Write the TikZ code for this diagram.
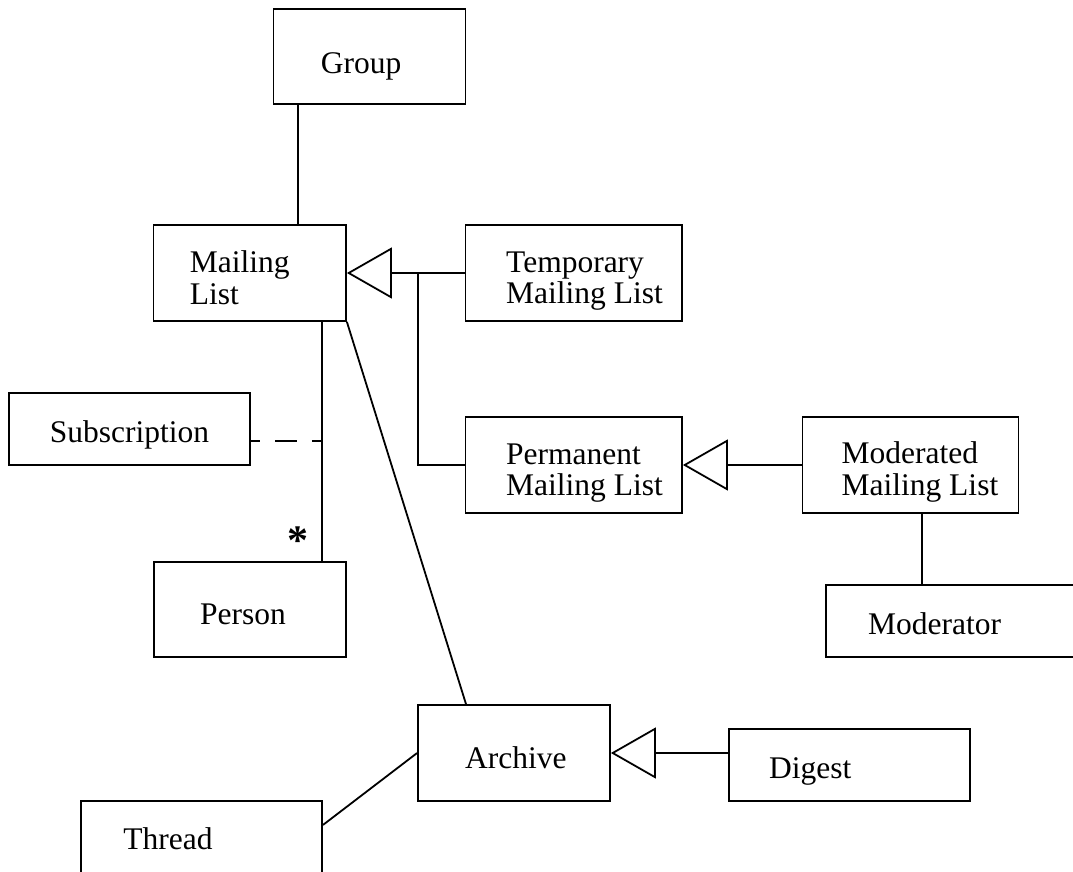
\documentclass[tikz,border=0pt]{standalone}
\usepackage{fontspec}
\setmainfont{Liberation Serif}
\usetikzlibrary{arrows.meta}
\begin{document}
\begin{tikzpicture}[x=1pt,y=-1pt,
  line width=1.8pt,
  box/.style={draw, inner sep=0pt, minimum width=#1},
  tall/.style={minimum height=96pt},
  short/.style={minimum height=72pt},
  lbl/.style={inner sep=0pt, anchor=base west, align=left,
    font=\fontsize{31.5}{31.5}\selectfont},
  gen/.style={-{Triangle[open, length=45pt, width=51pt, line width=1.8pt]}},
  assocdash/.style={dash pattern=on 21.7pt off 15pt, dash phase=12.4pt}]
\useasboundingbox (0,0) rectangle (1073,872);
\clip (0,0) rectangle (1073,872);

% classes
\node[box=192, minimum height=95pt] (g)   at (369.5,56.8) {};
\node[box=192.5, tall] (ml)  at (249.75,273) {};
\node[box=216.5, tall] (tml) at (573.75,273) {};
\node[box=216.5, tall] (pml) at (573.75,465) {};
\node[box=216, tall]   (mml) at (910.4,465) {};
\node[box=284, short]  (mod) at (967.7,621.2) {};
\node[box=240.7, short] (sub) at (129.65,429.2) {};
\node[box=192, minimum height=95pt] (per) at (250,609.2) {};
\node[box=192, tall]   (arc) at (514,753) {};
\node[box=240.7, short] (dig) at (849.65,765) {};
\node[box=241, short]  (thr) at (201.5,837) {};

% class names (base anchor sits on the last line)
\node[lbl] at (320,74) {Group};
\node[lbl] at (189,304) {Mailing\\List};
\node[lbl] at (505.3,303.5) {Temporary\\Mailing List};
\node[lbl] at (505.3,495.7) {Permanent\\Mailing List};
\node[lbl] at (840.7,495) {Moderated\\Mailing List};
\node[lbl] at (867.3,634.3) {Moderator};
\node[lbl] at (49,442.3) {Subscription};
\node[lbl] at (199.3,624.3) {Person};
\node[lbl] at (464.3,768.3) {Archive};
\node[lbl] at (768.3,778.3) {Digest};
\node[lbl] at (122.5,849.3) {Thread};

% guide coordinates for the connectors
\coordinate (gx) at (298.3,0);
\coordinate (jx) at (417.7,273);
\coordinate (px) at (321.7,0);
\coordinate (mx) at (922.3,0);
\coordinate (ax) at (466,0);
\coordinate (dy) at (0,441);
\coordinate (ty) at (0,825);

% associations
\draw (g.south -| gx) -- (ml.north -| gx);
\draw (ml.south -| px) -- (per.north -| px);
\draw[assocdash] (sub.east |- dy) -- (px |- dy);
\draw (ml.south east) -- (arc.north -| ax);
\draw (thr.east |- ty) -- (arc.west);
\draw (mml.south -| mx) -- (mod.north -| mx);

% generalizations
\draw[gen] (tml.west) -- (ml.east);
\draw (pml.west) -| (jx);
\draw[gen] (mml.west) -- (pml.east);
\draw[gen] (dig.west |- arc.east) -- (arc.east);

% multiplicity
\node[inner sep=0pt, anchor=base, font=\fontsize{42}{42}\selectfont\bfseries] (mult) at (298.3,554) {*};
\end{tikzpicture}
\end{document}
